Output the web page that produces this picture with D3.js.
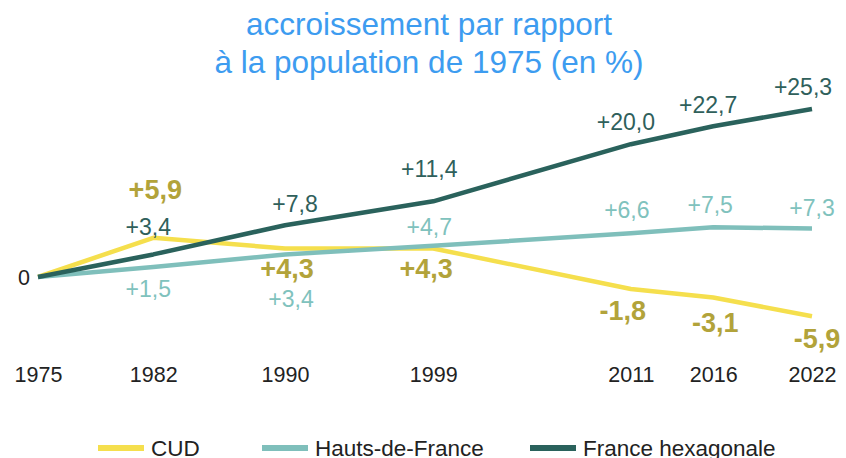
<!DOCTYPE html>
<html>
<head>
<meta charset="utf-8">
<script src="https://cdn.jsdelivr.net/npm/d3@7"></script>
<style>
  body { margin: 0; background: #fff; }
  svg { display: block; }
  text { font-family: "Liberation Sans", Arial, sans-serif; }
</style>
</head>
<body>
<div id="chart"></div>
<script>
const years = [1975, 1982, 1990, 1999, 2011, 2016, 2022];
const cud = [0, 5.9, 4.3, 4.3, -1.8, -3.1, -5.9];
const hautsDeFrance = [0, 1.5, 3.4, 4.7, 6.6, 7.5, 7.3];
const franceHexagonale = [0, 3.4, 7.8, 11.4, 20.0, 22.7, 25.3];
const seriesNames = ["CUD", "Hauts-de-France", "France hexagonale"];
const titleLines = ["accroissement par rapport", "à la population de 1975 (en %)"];

const width = 846;
const height = 458;

// label offsets from each point [dx, dy], as placed in the original
const labelOffsets = {
  "CUD": [[0, 0], [2, -39], [2, 30], [-7, 30], [-8, 31], [2, 34], [5, 32]],
  "Hauts-de-France": [[0, 0], [-5, 30], [6, 53], [-4, -11], [-4, -15], [-3, -14], [0, -13]],
  "France hexagonale": [[0, 0], [-5, -19], [10, -13], [-4, -24], [-5, -14], [-5, -13], [-9, -14]]
};

const series = [
  { name: seriesNames[0], values: cud, line: "#f5df4d", label: "#b2a33a", bold: true },
  { name: seriesNames[1], values: hautsDeFrance, line: "#7fbfbb", label: "#80c2bd", bold: false },
  { name: seriesNames[2], values: franceHexagonale, line: "#2a625c", label: "#2f605b", bold: false }
];

const x = d3.scaleLinear().domain([1975, 2022]).range([38, 812]);
const y = d3.scaleLinear().domain([-10, 30]).range([343.4, 77.8]);

const svg = d3.select("#chart")
  .append("svg")
  .attr("width", width)
  .attr("height", height);

// title
svg.append("g")
  .selectAll("text")
  .data(titleLines)
  .join("text")
  .attr("x", 429)
  .attr("y", (d, i) => 35 + i * 38)
  .attr("text-anchor", "middle")
  .attr("font-size", 31.5)
  .attr("fill", "#3d9cf0")
  .text(d => d);

// x axis (labels only)
const xAxis = svg.append("g")
  .attr("transform", "translate(0, 363)")
  .call(d3.axisBottom(x).tickValues(years).tickSize(0).tickFormat(d3.format("d")));
xAxis.select(".domain").remove();
xAxis.selectAll("text")
  .attr("dy", 0)
  .attr("y", 19)
  .attr("font-size", 21.5)
  .attr("font-family", "Liberation Sans, Arial, sans-serif")
  .attr("fill", "#222");

// y axis: only the zero
const yAxis = svg.append("g")
  .attr("transform", "translate(30, 0)")
  .call(d3.axisLeft(y).tickValues([0]).tickSize(0).tickFormat(d => "0"));
yAxis.select(".domain").remove();
yAxis.selectAll("text")
  .attr("dy", "0.35em")
  .attr("x", 0)
  .attr("font-size", 21.5)
  .attr("font-family", "Liberation Sans, Arial, sans-serif")
  .attr("fill", "#222");

const line = d3.line()
  .x((d, i) => x(years[i]))
  .y(d => y(d));

svg.append("g")
  .selectAll("path")
  .data(series)
  .join("path")
  .attr("fill", "none")
  .attr("stroke", d => d.line)
  .attr("stroke-width", 4.5)
  .attr("stroke-linejoin", "round")
  .attr("d", d => line(d.values));

const fmt = v => (v > 0 ? "+" : v < 0 ? "-" : "") + d3.format(".1f")(Math.abs(v)).replace(".", ",");

series.forEach(s => {
  svg.append("g")
    .selectAll("text")
    .data(s.values.map((v, i) => ({ v, i })).filter(d => d.i > 0))
    .join("text")
    .attr("x", d => x(years[d.i]) + labelOffsets[s.name][d.i][0])
    .attr("y", d => y(d.v) + labelOffsets[s.name][d.i][1])
    .attr("text-anchor", "middle")
    .attr("font-size", s.bold ? 27 : 23)
    .attr("font-weight", s.bold ? "bold" : "normal")
    .attr("fill", s.label)
    .text(d => fmt(d.v));
});

// legend
const legendX = [98, 262, 530];
const legend = svg.append("g")
  .selectAll("g")
  .data(series)
  .join("g")
  .attr("transform", (d, i) => `translate(${legendX[i]}, 448)`);
legend.append("line")
  .attr("x1", 0)
  .attr("x2", 46)
  .attr("stroke", d => d.line)
  .attr("stroke-width", 6);
legend.append("text")
  .attr("x", 53)
  .attr("y", 8)
  .attr("font-size", 22.5)
  .attr("fill", "#222")
  .text(d => d.name);
</script>
</body>
</html>
